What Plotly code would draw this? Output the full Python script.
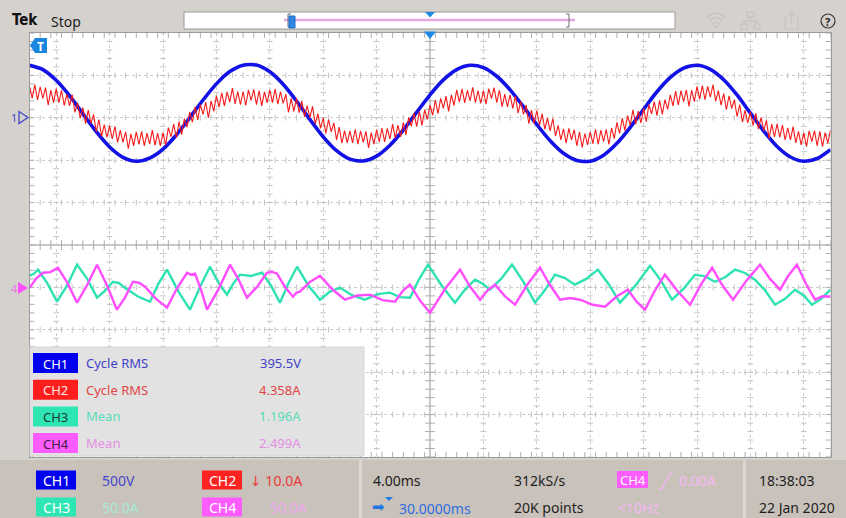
import numpy as np
import plotly.graph_objects as go

W, H = 846, 518
FONT = "Noto Sans, Open Sans, DejaVu Sans, sans-serif"

# ---------------- acquisition settings ----------------
MS_PER_DIV = 4.0
SPAN_MS = 60.0            # 15 horizontal divisions
CH1_SCALE, CH1_POS = 500.0, 3.0     # V/div, position in div
CH2_SCALE, CH2_POS = 10.0, 3.0      # A/div
CH3_SCALE, CH3_POS = 50.0, -1.0     # A/div
CH4_SCALE, CH4_POS = 50.0, -1.0     # A/div

# ---------------- waveform records ----------------
# CH1 line voltage (V), 1 ms sample spacing
ch1_t_ms = np.arange(0, 60.001, 1.0)
ch1_volts = [620, 569, 443, 262, 47, -164, -344, -466, -512, -476, -369, -203, 0,
             210, 400, 545, 621, 622, 542, 395, 198, -19, -224, -388, -488, -509,
             -452, -323, -144, 65, 271, 447, 569, 619, 592, 490, 330, 131, -79,
             -271, -419, -503, -512, -441, -301, -112, 101, 307, 476, 586, 620,
             572, 449, 269, 55, -157, -338, -462, -512, -480, -375]

# CH2 line current (A), 0.2 ms sample spacing
ch2_t_ms = np.arange(0, 60.001, 0.2)
ch2_amps = [
    7.5, 4.6, 7.8, 4.2, 7.3, 4.6, 7.1, 3.0, 6.5, 3.6,
    6.9, 3.6, 6.5, 2.9, 5.6, 2.8, 5.5, 1.3, 3.5, -0.1,
    2.4, -1.4, 1.8, -1.3, 0.8, -3.3, -0.4, -4.4, -1.6, -4.6,
    -1.9, -5.0, -2.0, -5.8, -2.9, -5.8, -3.3, -7.3, -3.8, -6.6,
    -3.3, -6.3, -3.2, -6.6, -3.6, -6.2, -2.9, -6.5, -3.6, -6.6,
    -3.5, -6.4, -2.3, -4.5, -1.5, -4.7, -0.9, -4.0, -0.2, -2.2,
    1.4, -1.0, 2.6, -0.5, 3.1, 0.8, 3.7, 0.0, 4.0, 1.5,
    5.2, 2.5, 5.9, 2.8, 6.1, 3.7, 7.0, 3.3, 6.2, 3.1,
    6.2, 2.9, 6.6, 4.1, 6.7, 3.1, 6.4, 2.8, 6.1, 3.5,
    6.6, 3.6, 6.8, 3.2, 6.2, 3.4, 5.6, 1.3, 4.6, 1.5,
    4.5, 1.2, 4.0, 0.2, 2.9, 0.0, 2.7, -1.4, 1.0, -2.5,
    0.0, -3.7, -0.4, -3.3, -1.2, -5.2, -2.2, -6.0, -3.0, -5.9,
    -3.1, -5.9, -2.7, -6.2, -3.1, -5.8, -3.2, -7.1, -3.5, -6.2,
    -2.8, -5.7, -2.4, -5.7, -2.5, -5.0, -1.5, -4.8, -1.7, -4.5,
    -1.1, -4.0, 0.1, -2.0, 1.1, -2.1, 1.5, -1.8, 1.9, -0.4,
    3.0, 0.6, 4.2, 1.0, 4.6, 2.2, 5.1, 1.5, 5.4, 2.9,
    6.6, 3.7, 6.8, 3.5, 6.5, 4.0, 7.2, 3.6, 6.4, 3.4,
    6.4, 3.2, 6.9, 4.5, 7.1, 3.6, 6.5, 2.6, 5.6, 2.6,
    5.4, 2.2, 5.1, 1.1, 3.9, 0.8, 3.0, -1.4, 1.8, -1.3,
    1.7, -1.7, 1.0, -2.7, -0.1, -3.1, -0.2, -4.3, -1.8, -5.2,
    -2.6, -6.0, -2.5, -5.2, -2.8, -6.6, -3.3, -7.0, -3.7, -6.4,
    -3.3, -6.1, -2.7, -6.2, -2.9, -5.6, -2.7, -6.3, -2.4, -4.9,
    -1.1, -3.7, -0.1, -3.0, 0.5, -1.7, 1.9, -1.5, 1.6, -1.2,
    2.2, -0.9, 3.1, 0.9, 3.8, 0.5, 4.1, 0.8, 4.3, 2.0,
    5.4, 2.8, 6.3, 3.0, 6.4, 3.8, 6.6, 2.7, 6.5, 3.8,
    7.4, 4.4, 7.6, 4.3, 7.4, 4.9, 7.8, 3.9, 6.4, 3.0,
    5.7, 1.9, 5.2, 2.2, 4.3, 0.3, 3.1, -1.0, 1.8, -1.2,
    1.4, -1.8, 1.1, -2.7, 0.1, -3.0, -0.6, -4.9, -1.5, -4.5,
    -1.4, -4.6, -1.7, -5.2, -2.4, -5.2, -2.1, -5.9, -3.2, -6.4,
    -3.5, -6.8, -3.1, -5.6, -3.0, -6.6, -3.2, -6.8, -3.5, -6.0,
    -2.9]

# CH3 branch current (A)
ch3_t_ms = [0, 0.32, 0.64, 1.35, 2.06, 2.81, 3.56, 4.31, 5.06, 5.65, 6.25, 6.7, 7.15, 8.09,
            9.03, 9.66, 10.3, 11.16, 12.02, 12.77, 13.52, 14.15, 14.79, 15.28, 15.77, 16.6,
            17.42, 18.09, 18.76, 19.4, 20.04, 20.9, 21.76, 22.5, 23.26, 24.2, 25.13, 26.07,
            27.0, 27.75, 28.5, 29.18, 29.85, 30.86, 31.87, 32.62, 33.37, 33.93, 34.49, 35.32,
            36.14, 37.0, 37.87, 38.6, 39.36, 40.1, 40.86, 41.7, 42.58, 43.4, 44.23, 45.35,
            46.48, 47.3, 48.13, 49.0, 49.85, 50.6, 51.35, 52.1, 52.85, 53.6, 54.34, 55.1,
            55.84, 56.6, 57.34, 58.0, 58.61, 59.3, 60.0]
ch3_amps = [13.8, 16.0, 20.9, 4.5, -16.9, 2.0, 26.8, 10.4, -12.1, -4.0, 6.7, 5.0, -0.4, -10.5,
            -16.9, 4.5, 20.9, -5.0, -26.3, 0.5, 24.4, 6.0, -8.6, 5.0, 15.0, 13.5,
            17.3, 2.0, -18.0, 5.0, 24.4, 2.0, -14.5, -5.0, -0.4, -9.5, -14.5, -8.0,
            -6.2, -11.5, -12.1, 9.5, 26.8, 2.5, -18.0, -2.5, 9.1, 4.5, -2.7, 10.0,
            26.8, 6.5, -18.0, -3.5, 15.0, 11.0, 3.2, 10.0, 20.9, 3.5, -18.0, 1.5,
            25.6, 8.0, -14.5, -1.5, 15.0, 13.0, 6.7, 12.0, 20.9, 17.0, 9.1, -3.5,
            -20.4, -13.5, -2.7, -9.5, -20.4, -13.5, -2.7]

# CH4 branch current (A)
ch4_t_ms = [0, 0.5, 1.01, 1.57, 2.13, 2.85, 3.56, 4.31, 5.06, 5.8, 6.55, 7.15, 7.75, 8.2,
            8.65, 9.48, 10.3, 11.05, 11.8, 12.1, 12.4, 12.85, 13.3, 14.16, 15.02, 15.65,
            16.29, 17.04, 17.79, 18.16, 18.54, 19.14, 19.74, 20.0, 20.26, 21.0, 21.76, 22.7,
            23.63, 24.57, 25.51, 26.45, 27.38, 27.94, 28.5, 29.25, 30.0, 31.12, 32.25, 33.0,
            33.75, 34.31, 34.87, 35.62, 36.37, 37.3, 38.24, 39.0, 39.74, 40.5, 41.24, 42.2,
            43.11, 44.0, 44.83, 45.46, 46.1, 46.85, 47.6, 48.55, 49.48, 50.3, 51.13, 51.9,
            52.7, 53.7, 54.72, 55.47, 56.22, 56.85, 57.49, 58.17, 58.84, 59.4, 60.0]
ch4_amps = [-0.4, 10.5, 17.3, 18.0, 23.2, 5.0, -18.0, 2.5, 26.8, 2.5, -26.3, -12.0, 6.7, 5.5,
            0.8, -13.5, -23.9, -1.0, 17.3, 15.0, 16.2, -3.0, -26.3, -2.0, 26.8, 9.5,
            -12.1, 0.5, 17.3, 18.5, 16.2, 0.5, -11.0, -6.0, -5.1, 6.5, 13.8, -2.5,
            -14.5, -9.5, -8.6, -15.0, -16.9, -4.5, 3.2, -15.5, -29.8, -2.0, 20.9, 1.0,
            -14.5, -3.5, 3.2, -10.5, -20.4, 3.5, 23.2, 2.5, -14.5, -12.5, -14.5, -20.5,
            -22.8, -10.5, -2.7, -16.5, -26.3, -3.5, 15.0, -4.5, -20.4, 3.5, 23.2, 2.5,
            -14.5, 8.0, 26.8, 10.0, -2.7, 14.0, 26.8, 4.0, -14.5, -10.5, -11.0]

# ---------------- measurement / status text ----------------
meas_rows = [("CH1", "Cycle RMS", "395.5V"), ("CH2", "Cycle RMS", "4.358A"),
             ("CH3", "Mean", "1.196A"), ("CH4", "Mean", "2.499A")]

# ---------------- screen geometry (pixels) ----------------
GX0, GX1, GY0, GY1 = 29.5, 830.5, 33.0, 457.0


def px(x):
    return x / W


def py(y):
    return 1 - y / H


def rect(x0, y0, x1, y1, fill, line_color=None, lw=0, layer="above"):
    return dict(type="rect", xref="paper", yref="paper", x0=px(x0), x1=px(x1),
                y0=py(y1), y1=py(y0), fillcolor=fill, layer=layer,
                line=dict(color=line_color or fill, width=lw))


def path(cmds, fill=None, color=None, lw=1, layer="above"):
    """cmds: list of (op, x, y, ...) in pixels; M/L repeat per point, Q takes two points."""
    parts = []
    for c in cmds:
        op, nums = c[0], c[1:]
        pts = [f"{px(nums[i]):.5f},{py(nums[i + 1]):.5f}" for i in range(0, len(nums), 2)]
        if op == "Q":
            for j in range(0, len(pts), 2):
                parts.append(f"Q{pts[j]} {pts[j + 1]}")
        else:
            for j, p in enumerate(pts):
                parts.append(("M" if (op == "M" and j == 0) else "L") + p)
    s = " ".join(parts)
    if fill:
        s += " Z"
    return dict(type="path", xref="paper", yref="paper", path=s, layer=layer,
                fillcolor=fill or "rgba(0,0,0,0)",
                line=dict(color=color or "rgba(0,0,0,0)", width=lw if color else 0))


def text(x, y, s, color, size=14, anchor="left", bold=False, family=FONT):
    return dict(x=px(x), y=py(y), xref="paper", yref="paper", text=f"<b>{s}</b>" if bold else s,
                showarrow=False, xanchor=anchor, yanchor="middle",
                font=dict(family=family, size=size, color=color))


def badge(x0, y0, x1, y1, fill, label, color, size=13):
    return rect(x0, y0, x1, y1, fill), text((x0 + x1) / 2, (y0 + y1) / 2 + 0.5, label, color, size, "center")


fig = go.Figure()

# ---------------- graticule sub-division ticks ----------------
GRID = "#c4c4c4"
sub_x = np.arange(0, SPAN_MS + 0.001, MS_PER_DIV / 5)
sub_y = np.arange(-5, 5.001, 0.2)
div_cols = [0.0] + list(np.arange(MS_PER_DIV / 2, SPAN_MS, MS_PER_DIV)) + [SPAN_MS]
for yv in range(-5, 6):
    big = yv in (-5, 0, 5)
    fig.add_trace(go.Scatter(x=sub_x, y=[yv] * len(sub_x), mode="markers", hoverinfo="skip",
                             marker=dict(symbol="line-ns", size=7 if big else 4,
                                         line=dict(color="#adadad" if big else GRID, width=1))))
for xv in div_cols:
    big = xv in (0.0, SPAN_MS / 2, SPAN_MS)
    fig.add_trace(go.Scatter(x=[xv] * len(sub_y), y=sub_y, mode="markers", hoverinfo="skip",
                             marker=dict(symbol="line-ew", size=7 if big else 4,
                                         line=dict(color="#adadad" if big else GRID, width=1))))

# ---------------- waveforms ----------------
fig.add_trace(go.Scatter(x=ch1_t_ms, y=ch1_volts, yaxis="y2", mode="lines", hoverinfo="skip",
                         line=dict(color="#1212e6", width=3.6, shape="spline", smoothing=0.7)))
fig.add_trace(go.Scatter(x=ch2_t_ms, y=ch2_amps, yaxis="y3", mode="lines", hoverinfo="skip",
                         line=dict(color="#f41c1c", width=1.1)))
fig.add_trace(go.Scatter(x=ch3_t_ms, y=ch3_amps, yaxis="y4", mode="lines", hoverinfo="skip",
                         line=dict(color="#2fe2b2", width=2.4)))
fig.add_trace(go.Scatter(x=ch4_t_ms, y=ch4_amps, yaxis="y5", mode="lines", hoverinfo="skip",
                         line=dict(color="#ff4dff", width=2.4)))


def ch_range(scale, pos):
    return [(-5 - pos) * scale, (5 - pos) * scale]


axis_common = dict(showticklabels=False, zeroline=False, ticks="", fixedrange=True)
layout = dict(
    width=W, height=H, margin=dict(l=0, r=0, t=0, b=0), showlegend=False,
    paper_bgcolor="#d5d2cd", plot_bgcolor="#ffffff",
    xaxis=dict(domain=[px(GX0), px(GX1)], range=[0, SPAN_MS], tick0=MS_PER_DIV / 2,
               dtick=MS_PER_DIV, showgrid=True, gridcolor="#cdcdcd", griddash="dot",
               gridwidth=1, showline=True, linecolor="#9c9c9c", linewidth=1, mirror=True,
               **axis_common),
    yaxis=dict(domain=[py(GY1), py(GY0)], range=[-5, 5], dtick=1, showgrid=True,
               gridcolor="#cdcdcd", griddash="dot", gridwidth=1, showline=True,
               linecolor="#9c9c9c", linewidth=1, mirror=True, **axis_common),
    yaxis2=dict(overlaying="y", range=ch_range(CH1_SCALE, CH1_POS), visible=False),
    yaxis3=dict(overlaying="y", range=ch_range(CH2_SCALE, CH2_POS), visible=False),
    yaxis4=dict(overlaying="y", range=ch_range(CH3_SCALE, CH3_POS), visible=False),
    yaxis5=dict(overlaying="y", range=ch_range(CH4_SCALE, CH4_POS), visible=False),
)
fig.update_layout(**layout)

shapes, annos = [], []

# centre cross of the graticule
shapes.append(dict(type="line", xref="x", yref="y", x0=SPAN_MS / 2, x1=SPAN_MS / 2, y0=-5, y1=5,
                   line=dict(color="#8f8f8f", width=1), layer="below"))
shapes.append(dict(type="line", xref="x", yref="y", x0=0, x1=SPAN_MS, y0=0, y1=0,
                   line=dict(color="#8f8f8f", width=1), layer="below"))

# ---------------- top bar ----------------
annos.append(text(10, 20.5, "Tek", "#111111", 15, bold=True, family="DejaVu Sans Condensed, DejaVu Sans"))
annos.append(text(49, 21, "Stop", "#222222", 14))
shapes.append(rect(184, 12, 675, 29, "#ffffff", "#9a9a9a", 1))
shapes.append(dict(type="line", xref="paper", yref="paper", x0=px(284), x1=px(575), y0=py(20),
                   y1=py(20), line=dict(color="#e3a9e3", width=2.5)))
shapes.append(path([("M", 291, 14, 288, 14, 288, 27, 291, 27)], color="#6e6e6e", lw=1))
shapes.append(path([("M", 566, 14, 569, 14, 569, 27, 566, 27)], color="#6e6e6e", lw=1))
shapes.append(rect(289, 16, 295, 28, "#2f86e0", "#1f6fc8", 1))
shapes.append(path([("M", 425, 12), ("L", 435, 12, 430, 17.5)], fill="#1e88e5"))
# status icons
for cmd in ([("M", 712.5, 24), ("Q", 716, 20.5, 719.5, 24)],
            [("M", 709.5, 21), ("Q", 716, 14.5, 722.5, 21)],
            [("M", 706.5, 18), ("Q", 716, 8.5, 725.5, 18)]):
    shapes.append(path(cmd, color="#c4c4c4", lw=1.5))
shapes.append(dict(type="circle", xref="paper", yref="paper", x0=px(714.8), x1=px(717.2),
                   y0=py(28), y1=py(25.6), fillcolor="#c4c4c4", line=dict(width=0)))
shapes.append(rect(747, 12, 754, 17, "rgba(0,0,0,0)", "#c0c0c0", 1))
shapes.append(path([("M", 750.5, 17, 750.5, 21)], color="#c0c0c0", lw=1))
shapes.append(path([("M", 744, 24, 744, 21, 757, 21, 757, 24)], color="#c0c0c0", lw=1))
shapes.append(rect(741, 24, 747, 29, "rgba(0,0,0,0)", "#c0c0c0", 1))
shapes.append(rect(754, 24, 760, 29, "rgba(0,0,0,0)", "#c0c0c0", 1))
shapes.append(path([("M", 788, 17, 785, 17, 785, 29, 798, 29, 798, 17, 795, 17)], color="#c4c4c4", lw=1.2))
shapes.append(path([("M", 791.5, 24, 791.5, 12)], color="#c4c4c4", lw=1.2))
shapes.append(path([("M", 788.5, 15, 791.5, 12, 794.5, 15)], color="#c4c4c4", lw=1.2))
shapes.append(dict(type="circle", xref="paper", yref="paper", x0=px(821), x1=px(835),
                   y0=py(28), y1=py(14), line=dict(color="#333333", width=1.2)))
annos.append(text(828, 21.5, "?", "#222222", 11, "center", bold=True))

# trigger position markers
shapes.append(path([("M", 424, 31.5), ("L", 436, 31.5, 430, 39)], fill="#1e88e5"))
shapes.append(path([("M", 35, 38), ("L", 47, 38, 47, 53, 35, 53, 30, 45.5)], fill="#1a86e0"))
annos.append(text(40.5, 46, "T", "#ffffff", 12, "center", bold=True))

# channel ground markers
annos.append(text(9, 117, "1", "#4646cc", 11))
shapes.append(path([("M", 19, 111.5), ("L", 28, 117.5, 19, 123.5)], fill="rgba(0,0,0,0)",
                   color="#4646cc", lw=1.3))
annos.append(text(9, 288, "4", "#e27ae2", 11))
shapes.append(path([("M", 18, 282), ("L", 28, 288, 18, 294)], fill="#ff50ff"))

# ---------------- measurement results table ----------------
shapes.append(rect(30, 347, 364, 456, "#e2e2e2", "#d6d6d6", 1))
meas_style = {
    "CH1": ("#0000ee", "#ffffff", "#4242c8"),
    "CH2": ("#ff1d1d", "#ffe6e6", "#e04646"),
    "CH3": ("#2ee6b4", "#1c3a34", "#58dcb9"),
    "CH4": ("#ff5cff", "#3c1e3c", "#e58ee5"),
}
for i, (ch, name, val) in enumerate(meas_rows):
    yc = 363 + i * 26.7
    fill, tcol, lcol = meas_style[ch]
    r, a = badge(33, yc - 10, 78, yc + 10, fill, ch, tcol, 13)
    shapes.append(r)
    annos.append(a)
    annos.append(text(84, yc, name, lcol, 13))
    annos.append(text(303, yc, val, lcol, 13, "right"))

# ---------------- bottom status bar ----------------
shapes.append(rect(0, 460, W, H, "#c9c2bb"))
shapes.append(rect(359, 460, 362, H, "#ddd7d1"))
shapes.append(rect(743, 460, 746, H, "#ddd7d1"))
R1, R2 = 480, 507
for (x0, yc, fill, ch) in [(36, R1, "#0000f0", "CH1"), (202, R1, "#ff2222", "CH2"),
                           (36, R2, "#2ee6b4", "CH3"), (202, R2, "#ff5cff", "CH4")]:
    r, a = badge(x0, yc - 9.5, x0 + 40, yc + 9.5, fill, ch, "#ffffff", 14)
    shapes.append(r)
    annos.append(a)
annos.append(text(100, R1, "500V", "#4646cc", 14))
annos.append(text(248, R1, "↓ 10.0A", "#e83a3a", 14))
annos.append(text(100, R2, "50.0A", "#a6e9d6", 14))
annos.append(text(268, R2, "50.0A", "#f2a9f2", 14))
annos.append(text(371, R1, "4.00ms", "#1e1e1e", 14))
annos.append(text(370, R2, "➡", "#1f78e0", 15, family="DejaVu Sans"))
shapes.append(path([("M", 385, 497), ("L", 393, 497, 389, 501)], fill="#1f78e0"))
annos.append(text(397, R2 + 1, "30.0000ms", "#2e6fe0", 14))
annos.append(text(512, R1, "312kS/s", "#1e1e1e", 14))
annos.append(text(512, R2, "20K points", "#1e1e1e", 14))
r, a = badge(617, R1 - 9, 648, R1 + 8, "#ff5cff", "CH4", "#ffffff", 13)
shapes.append(r)
annos.append(a)
shapes.append(path([("M", 659, 489, 662, 489, 671, 472, 674, 472)], color="#f4b4f4", lw=1.3))
annos.append(text(677, R1, "0.00A", "#f5b8f5", 14))
annos.append(text(616, R2, "&lt;10Hz", "#f5b8f5", 14))
annos.append(text(757, R1, "18:38:03", "#1e1e1e", 14))
annos.append(text(757, R2, "22 Jan 2020", "#1e1e1e", 14))

fig.update_layout(shapes=shapes, annotations=annos)
fig.write_html("out.html")
